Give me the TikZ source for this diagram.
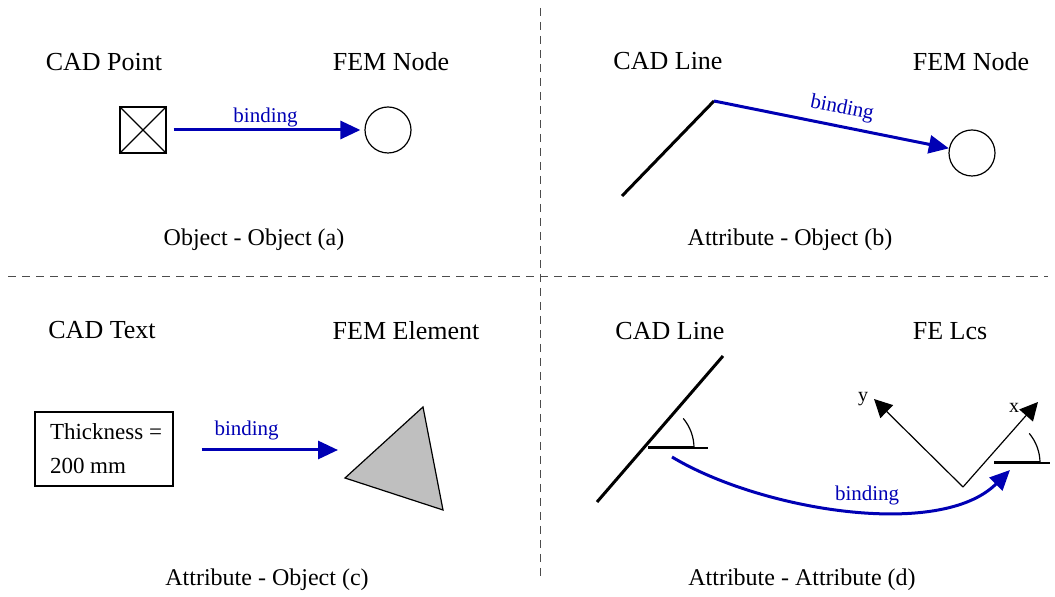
\documentclass[tikz,border=0pt]{standalone}
\usepackage{fontspec}
\setmainfont{Liberation Serif}
\usetikzlibrary{arrows.meta, positioning}
\definecolor{bindblue}{RGB}{0,0,180}

\begin{document}
\begin{tikzpicture}[x=.5pt, y=-.5pt,
    title/.style={font=\fontsize{13}{15}\selectfont},
    caption/.style={font=\fontsize{12}{14}\selectfont},
    bind/.style={bindblue, line width=1.5pt, -{Triangle[length=10pt, width=9pt]}},
    bindlabel/.style={text=bindblue, font=\fontsize{10.5}{12}\selectfont},
    divider/.style={black!70, dash pattern=on 4pt off 3pt, line width=.5pt},
    fenode/.style={circle, draw, line width=.6pt, minimum size=23pt, inner sep=0pt},
    axis/.style={line width=.6pt, -{Triangle[length=9pt, width=9pt]}},
    axislabel/.style={font=\fontsize{10}{11}\selectfont},
    cadline/.style={line width=1.5pt}]
  \useasboundingbox (0,0) rectangle (1055,597);
  \draw[divider] (540,8) -- (540,580);
  \draw[divider] (8,277) -- (1048,277);
  % titles and captions
  \foreach \pos/\txt in {(104,62)/CAD Point, (391,62)/FEM Node, (668,61)/CAD Line,
      (971,62)/FEM Node, (102,330)/CAD Text, (406,331)/FEM Element,
      (670,331)/CAD Line, (950,331)/FE Lcs}
    \node[title] at \pos {\txt};
  \foreach \pos/\txt in {(254,240)/Object - Object (a), (790,240)/Attribute - Object (b),
      (267,580)/Attribute - Object (c), (802,580)/Attribute - Attribute (d)}
    \node[caption] at \pos {\txt};
  % (a)
  \node[draw, line width=.6pt, minimum size=23pt, inner sep=0pt] (pt) at (143,130) {};
  \draw[line width=.6pt] (pt.north west) -- (pt.south east) (pt.north east) -- (pt.south west);
  \node[fenode] (nodea) at (388,130) {};
  \draw[bind, shorten <=3.5pt, shorten >=2pt] (pt) -- node[bindlabel, above=-2.5pt] {binding} (nodea);
  % (b)
  \coordinate (bend) at (714,101);
  \coordinate (linestart) at (622,196);
  \node[fenode] (nodeb) at (972,153) {};
  \draw[cadline] (linestart) -- (bend);
  \draw[bind] (bend) -- node[bindlabel, above, sloped, pos=.53] {binding} (nodeb);
  % (c)
  \node[draw, line width=.6pt, align=left, inner xsep=5.5pt, inner ysep=6pt,
    font=\fontsize{11.5}{17}\selectfont] (thick) at (104,449) {\hspace*{2pt}Thickness =\\\hspace*{2pt}200 mm};
  \coordinate (elem) at (338,450);
  \draw[fill=gray!50, line width=.6pt] (345,478) -- (423,407) -- (443,510) -- cycle;
  \draw[bind] ([xshift=14pt]thick.east |- elem) -- node[bindlabel, above=1pt, pos=.33] {binding} (elem);
  % (d)
  \draw[cadline] (597,502) -- (723,356);
  \draw[cadline] (648,448) -- (694,448);
  \draw[line width=.6pt] (694,448) -- (708,448);
  \draw[line width=.6pt] (694,448) arc[start angle=0, end angle=40, radius=23pt];
  \coordinate (lcs) at (963,487);
  \coordinate (ytip) at (874,399);
  \coordinate (xtip) at (1038,402);
  \draw[axis] (lcs) -- (ytip);
  \draw[axis] (lcs) -- (xtip);
  \node[axislabel] at (863,399) {y};
  \node[axislabel] at (1014,408) {x};
  \draw[cadline] (994,463) -- (1040,463);
  \draw[line width=.6pt] (1040,463) -- (1050,463);
  \draw[line width=.6pt] (1040,463) arc[start angle=0, end angle=40, radius=23pt];
  \coordinate (cadangle) at (672,457);
  \coordinate (lcsangle) at (1010,470);
  \draw[bind] (cadangle) .. controls (760,510) and (940,540) .. node[bindlabel, above=-1pt, pos=.55] {binding} (lcsangle);
\end{tikzpicture}
\end{document}
